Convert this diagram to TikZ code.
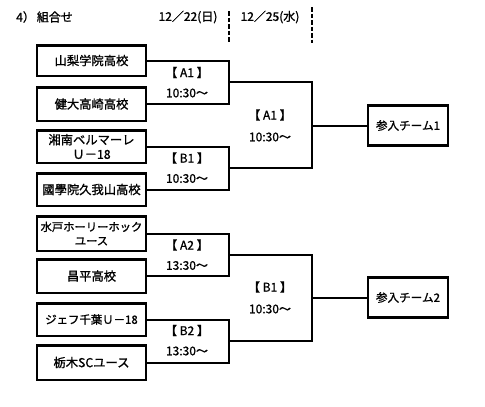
\documentclass[tikz,border=0pt]{standalone}
\usepackage{fontspec}
\setmainfont{Noto Sans CJK JP}[FakeBold=1.2]
\begin{document}
\begin{tikzpicture}[x=1pt,y=-1pt,
  team/.style={draw, line width=2.5pt, minimum width=109pt, inner sep=0pt, align=center, font=\fontsize{12.3}{14.5}\selectfont},
  final/.style={draw, line width=2.3pt, minimum width=80pt, minimum height=40pt, inner sep=0pt, font=\fontsize{11.6}{14}\selectfont},
  lbl/.style={inner sep=0pt, font=\fontsize{12}{14}\selectfont},
  hdr/.style={inner sep=0pt, font=\fontsize{12}{14}\selectfont},
  br/.style={line width=2pt},
  dl/.style={line width=2pt, dash pattern=on 4.5pt off 2pt}]
\useasboundingbox (0,0) rectangle (485,407);
% header
\node[hdr, anchor=west] (h0) at (16,17) {4）\,組合せ};
\node[hdr] (h1) at (188,17) {12／22(日)};
\node[hdr] (h2) at (270,17) {12／25(水)};
\coordinate (d1a) at (229,11);
\coordinate (d1b) at (229,43);
\coordinate (d2a) at (312,7);
\coordinate (d2b) at (312,43);
\draw[dl] (d1a) -- (d1b);
\draw[dl] (d2a) -- (d2b);
% teams
\node[team, minimum height=30.5pt] (t1) at (91.5,60.5) {山梨学院高校};
\node[team, minimum height=33.5pt] (t2) at (91.5,104) {健大高崎高校};
\node[team, minimum height=32.5pt] (t3) at (91.5,146.5) {湘南ベルマーレ\\Ｕ－18};
\node[team, minimum height=32.5pt] (t4) at (91.5,189.5) {國學院久我山高校};
\node[team, minimum height=34.5pt, font=\fontsize{11.3}{14}\selectfont] (t5) at (91.5,233.5) {水戸ホーリーホック\\ユース};
\node[team, minimum height=33.5pt] (t6) at (91.5,276) {昌平高校};
\node[team, minimum height=32.5pt, font=\fontsize{11.4}{14}\selectfont] (t7) at (91.5,319.5) {ジェフ千葉Ｕ－18};
\node[team, minimum height=34.5pt] (t8) at (91.5,362.5) {栃木SCユース};
% finals
\node[final] (f1) at (408,125.5) {参入チーム1};
\node[final] (f2) at (408,297.5) {参入チーム2};
% junctions
\coordinate (j1) at (229,82.25);
\coordinate (j2) at (229,168);
\coordinate (j3) at (229,254.75);
\coordinate (j4) at (229,341);
\coordinate (k1) at (312,125.5);
\coordinate (k2) at (312,297.5);
% round 1
\draw[br] (t1.east) -| (j1) |- (t2.east);
\draw[br] (t3.east) -| (j2) |- (t4.east);
\draw[br] (t5.east) -| (j3) |- (t6.east);
\draw[br] (t7.east) -| (j4) |- (t8.east);
% round 2
\draw[br] (j1) -| (k1) |- (j2);
\draw[br] (j3) -| (k2) |- (j4);
\draw[br] (k1) -- (f1.west);
\draw[br] (k2) -- (f2.west);
% labels
\node[lbl] (a1) at (187,72.5) {【 A1 】};
\node[lbl] (a1t) at (187,93) {10:30～};
\node[lbl] (b1) at (187,158) {【 B1 】};
\node[lbl] (b1t) at (187,178.5) {10:30～};
\node[lbl] (a2) at (187,245) {【 A2 】};
\node[lbl] (a2t) at (187,265.5) {13:30～};
\node[lbl] (b2) at (187,330.5) {【 B2 】};
\node[lbl] (b2t) at (187,351) {13:30～};
\node[lbl] (c1) at (270,115) {【 A1 】};
\node[lbl] (c1t) at (270,137) {10:30～};
\node[lbl] (c2) at (270,287) {【 B1 】};
\node[lbl] (c2t) at (270,309) {10:30～};
\end{tikzpicture}
\end{document}
